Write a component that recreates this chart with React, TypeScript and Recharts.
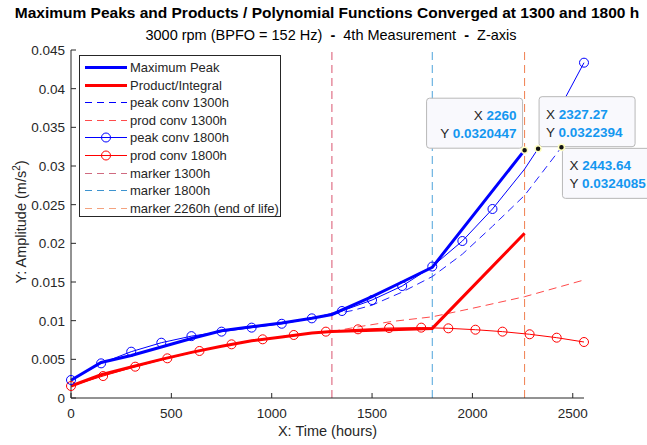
import { Line, LineChart, ReferenceDot, ReferenceLine, XAxis, YAxis } from "recharts";

const FONT = '"Liberation Sans", Arial, Helvetica, sans-serif';
const AXIS = "#262626";
const TIP_BLUE = "#1497F0";

// thick lines
const maxPeakHours = [0, 150, 300, 450, 600, 750, 900, 1050, 1200, 1300, 1500, 1650, 1800, 2260];
const maxPeakValues = [0.0023, 0.0046, 0.0055, 0.0066, 0.0077, 0.0087, 0.0092, 0.0097, 0.0103, 0.0108, 0.0131, 0.015, 0.0169, 0.0320447];

const productHours = [0, 150, 300, 450, 600, 750, 900, 1050, 1200, 1300, 1800, 2260];
const productValues = [0.00155, 0.003, 0.004, 0.005, 0.0059, 0.0067, 0.0074, 0.0079, 0.0084, 0.0086, 0.009, 0.0213];

// polynomial converged at 1300 h
const peakConv1300Hours = [1300, 1400, 1500, 1650, 1800, 1950, 2100, 2260, 2443.64];
const peakConv1300Values = [0.0108, 0.0113, 0.012, 0.0137, 0.0157, 0.0186, 0.0222, 0.0262, 0.0324085];

const prodConv1300Hours = [1300, 1430, 1600, 1800, 2000, 2260, 2556];
const prodConv1300Values = [0.0086, 0.0092, 0.0099, 0.0105, 0.0116, 0.0131, 0.01526];

// polynomial converged at 1800 h
const peakConv1800Hours = [0, 150, 300, 450, 600, 750, 900, 1050, 1200, 1350, 1500, 1650, 1800, 1950, 2100, 2260, 2327.27, 2556];
const peakConv1800Values = [0.00233, 0.00448, 0.00599, 0.00715, 0.008, 0.00858, 0.0091, 0.0096, 0.0103, 0.01125, 0.01267, 0.01448, 0.017, 0.0203, 0.02444, 0.0296, 0.0322394, 0.04336];

const prodConv1800Hours = [0, 160, 320, 480, 640, 800, 955, 1110, 1270, 1430, 1585, 1745, 1880, 2015, 2150, 2285, 2420, 2556];
const prodConv1800Values = [0.00155, 0.00284, 0.00405, 0.00513, 0.00608, 0.00694, 0.00759, 0.00815, 0.00858, 0.00888, 0.00905, 0.0091, 0.00901, 0.00883, 0.00858, 0.00824, 0.0078, 0.00724];

const markerHours = [1300, 1800, 2260];

// data tips: [x, y]
const tipHours = [2260, 2327.27, 2443.64];
const tipValues = [0.0320447, 0.0322394, 0.0324085];
const tipXLabels = ["2260", "2327.27", "2443.64"];
const tipYLabels = ["0.0320447", "0.0322394", "0.0324085"];

const xTicks = [0, 500, 1000, 1500, 2000, 2500];
const yTicks = [0, 0.005, 0.01, 0.015, 0.02, 0.025, 0.03, 0.035, 0.04, 0.045];
const yTickLabels = ["0", "0.005", "0.01", "0.015", "0.02", "0.025", "0.03", "0.035", "0.04", "0.045"];

const legendLabels = [
  "Maximum Peak",
  "Product/Integral",
  "peak conv 1300h",
  "prod conv 1300h",
  "peak conv 1800h",
  "prod conv 1800h",
  "marker 1300h",
  "marker 1800h",
  "marker 2260h (end of life)",
];

const toPoints = (xs: number[], ys: number[]) => xs.map((x, i) => ({ x, y: ys[i] }));

const legendStyles = [
  { color: "#0000FF", width: 3 },
  { color: "#FF0000", width: 3 },
  { color: "#0000FF", width: 1, dash: "7 5" },
  { color: "#FF4A4A", width: 1, dash: "7 5" },
  { color: "#0000FF", width: 1, circle: true },
  { color: "#FF0000", width: 1, circle: true },
  { color: "#D06A80", width: 1, dash: "7 5" },
  { color: "#3D93CF", width: 1, dash: "7 5" },
  { color: "#F4A27E", width: 1, dash: "7 5" },
];
const markerColors = ["#D9536F", "#4DA3DB", "#F07F50"];

const BottomTick = (props: any) => {
  const { x, y, payload } = props;
  return (
    <g>
      <line x1={x} x2={x} y1={y} y2={y - 5} stroke={AXIS} />
      <text x={x} y={y + 20} textAnchor="middle" fill={AXIS} fontSize={13.5} fontFamily={FONT}>
        {payload.value}
      </text>
    </g>
  );
};

const TopTick = (props: any) => {
  const { x, y } = props;
  return <line x1={x} x2={x} y1={y} y2={y + 5} stroke={AXIS} />;
};

const LeftTick = (props: any) => {
  const { x, y, payload, index } = props;
  return (
    <g>
      <line x1={x} x2={x + 5} y1={y} y2={y} stroke={AXIS} />
      <text x={x - 6} y={y + 5} textAnchor="end" fill={AXIS} fontSize={13.5} fontFamily={FONT}>
        {yTickLabels[index] ?? payload.value}
      </text>
    </g>
  );
};

const RightTick = (props: any) => {
  const { x, y } = props;
  return <line x1={x} x2={x - 5} y1={y} y2={y} stroke={AXIS} />;
};

const circleDot = (color: string) => (props: any) => {
  const { cx, cy, payload, index } = props;
  if (tipHours.includes(payload.x)) return <g key={index} />;
  return <circle key={index} cx={cx} cy={cy} r={4.5} fill="none" stroke={color} strokeWidth={1} />;
};

const tipShape = (i: number) => (props: any) => {
  const { cx, cy } = props;
  // box placement around the dot, as in the reference
  const boxes = [
    { x: cx - 98, y: cy - 52, anchor: "end" },
    { x: cx + 1, y: cy - 52, anchor: "start" },
    { x: cx + 1, y: cy + 1, anchor: "start" },
  ];
  const b = boxes[i];
  const w = 96;
  const h = 50;
  const right = b.anchor === "end";
  return (
    <g>
      <rect x={b.x} y={b.y} width={w} height={h} rx={3} fill="#F9F9FD" stroke="#B8B8B8" strokeWidth={1} />
      {right ? (
        <>
          <text x={b.x + w - 6} y={b.y + 22} textAnchor="end" fontSize={13.5} fontFamily={FONT}>
            <tspan fill={AXIS}>X </tspan>
            <tspan fill={TIP_BLUE} fontWeight="bold">{tipXLabels[i]}</tspan>
          </text>
          <text x={b.x + w - 6} y={b.y + 40} textAnchor="end" fontSize={13.5} fontFamily={FONT}>
            <tspan fill={AXIS}>Y </tspan>
            <tspan fill={TIP_BLUE} fontWeight="bold">{tipYLabels[i]}</tspan>
          </text>
        </>
      ) : (
        <>
          <text x={b.x + 7} y={b.y + 22} fontSize={13.5} fontFamily={FONT}>
            <tspan fill={AXIS}>X </tspan>
            <tspan fill={TIP_BLUE} fontWeight="bold">{tipXLabels[i]}</tspan>
          </text>
          <text x={b.x + 7} y={b.y + 40} fontSize={13.5} fontFamily={FONT}>
            <tspan fill={AXIS}>Y </tspan>
            <tspan fill={TIP_BLUE} fontWeight="bold">{tipYLabels[i]}</tspan>
          </text>
        </>
      )}
      <circle cx={cx} cy={cy} r={3} fill="#111" stroke="#FFFFC0" strokeWidth={1.5} />
    </g>
  );
};

const LegendBox = () => (
  <div
    style={{
      position: "absolute",
      left: 79,
      top: 55,
      width: 200,
      height: 160,
      background: "#fff",
      border: `1px solid ${AXIS}`,
      fontFamily: FONT,
      fontSize: 13,
      color: AXIS,
    }}
  >
    {legendLabels.map((label, i) => {
      const s = legendStyles[i];
      return (
        <div key={label} style={{ position: "absolute", left: 4, top: 3 + i * 17.6, height: 17, display: "flex", alignItems: "center" }}>
          <svg width={46} height={17}>
            <line x1={1} x2={43} y1={8.5} y2={8.5} stroke={s.color} strokeWidth={s.width} strokeDasharray={s.dash} />
            {s.circle && <circle cx={22} cy={8.5} r={4.5} fill="none" stroke={s.color} />}
          </svg>
          <span style={{ whiteSpace: "nowrap" }}>{label}</span>
        </div>
      );
    })}
  </div>
);

export default function App() {
  return (
    <div style={{ position: "absolute", left: 0, top: 0, width: 647, height: 445, background: "#fff", fontFamily: FONT }}>
      <div style={{ position: "absolute", left: 0, width: 654, top: 4, textAlign: "center", fontWeight: "bold", fontSize: 15.5, color: "#000" }}>
        Maximum Peaks and Products / Polynomial Functions Converged at 1300 and 1800 h
      </div>
      <div style={{ position: "absolute", left: 0, width: 662, top: 27, textAlign: "center", fontSize: 14.5, color: "#000", whiteSpace: "pre" }}>
        {"3000 rpm (BPFO = 152 Hz)  "}
        <b>-</b>
        {"  4th Measurement  "}
        <b>-</b>
        {"  Z-axis"}
      </div>
      <LineChart width={647} height={445} margin={{ top: 50, right: 63, bottom: 0, left: 0 }}>
        <XAxis
          dataKey="x"
          type="number"
          domain={[0, 2556]}
          ticks={xTicks}
          height={47}
          tickSize={0}
          tickMargin={0}
          tick={<BottomTick />}
          tickLine={false}
          axisLine={{ stroke: AXIS }}
        />
        <XAxis
          xAxisId="top"
          orientation="top"
          dataKey="x"
          type="number"
          domain={[0, 2556]}
          ticks={xTicks}
          height={0}
          tickSize={0}
          tickMargin={0}
          tick={<TopTick />}
          tickLine={false}
          axisLine={{ stroke: AXIS }}
        />
        <YAxis
          type="number"
          domain={[0, 0.045]}
          ticks={yTicks}
          width={71}
          tickSize={0}
          tickMargin={0}
          tick={<LeftTick />}
          tickLine={false}
          axisLine={{ stroke: AXIS }}
        />
        <YAxis
          yAxisId="right"
          orientation="right"
          type="number"
          domain={[0, 0.045]}
          ticks={yTicks}
          width={0}
          tickSize={0}
          tickMargin={0}
          tick={<RightTick />}
          tickLine={false}
          axisLine={{ stroke: AXIS }}
        />

        {markerHours.map((h, i) => (
          <ReferenceLine key={h} x={h} stroke={markerColors[i]} strokeWidth={1} strokeDasharray="8 5" />
        ))}

        <Line data={toPoints(prodConv1300Hours, prodConv1300Values)} dataKey="y" type="linear" stroke="#FF4A4A" strokeWidth={1} strokeDasharray="8 5" dot={false} isAnimationActive={false} />
        <Line data={toPoints(peakConv1300Hours, peakConv1300Values)} dataKey="y" type="linear" stroke="#2020FF" strokeWidth={1} strokeDasharray="8 5" dot={false} isAnimationActive={false} />
        <Line data={toPoints(prodConv1800Hours, prodConv1800Values)} dataKey="y" type="linear" stroke="#FF0000" strokeWidth={1} dot={circleDot("#FF0000")} isAnimationActive={false} />
        <Line data={toPoints(peakConv1800Hours, peakConv1800Values)} dataKey="y" type="linear" stroke="#0000FF" strokeWidth={1} dot={circleDot("#0000FF")} isAnimationActive={false} />
        <Line data={toPoints(productHours, productValues)} dataKey="y" type="linear" stroke="#FF0000" strokeWidth={3} dot={false} isAnimationActive={false} />
        <Line data={toPoints(maxPeakHours, maxPeakValues)} dataKey="y" type="linear" stroke="#0000FF" strokeWidth={3} dot={false} isAnimationActive={false} />

        {tipHours.map((h, i) => (
          <ReferenceDot key={h} x={h} y={tipValues[i]} r={3} shape={tipShape(i)} />
        ))}
      </LineChart>
      <LegendBox />
      <div style={{ position: "absolute", left: 0, width: 655, top: 423, textAlign: "center", fontSize: 14.5, color: AXIS }}>
        X: Time (hours)
      </div>
      <div
        style={{
          position: "absolute",
          left: 20,
          top: 222,
          transform: "translate(-50%, -50%) rotate(-90deg)",
          whiteSpace: "nowrap",
          fontSize: 14.5,
          color: AXIS,
        }}
      >
        Y: Amplitude (m/s<sup style={{ fontSize: 10 }}>2</sup>)
      </div>
    </div>
  );
}
